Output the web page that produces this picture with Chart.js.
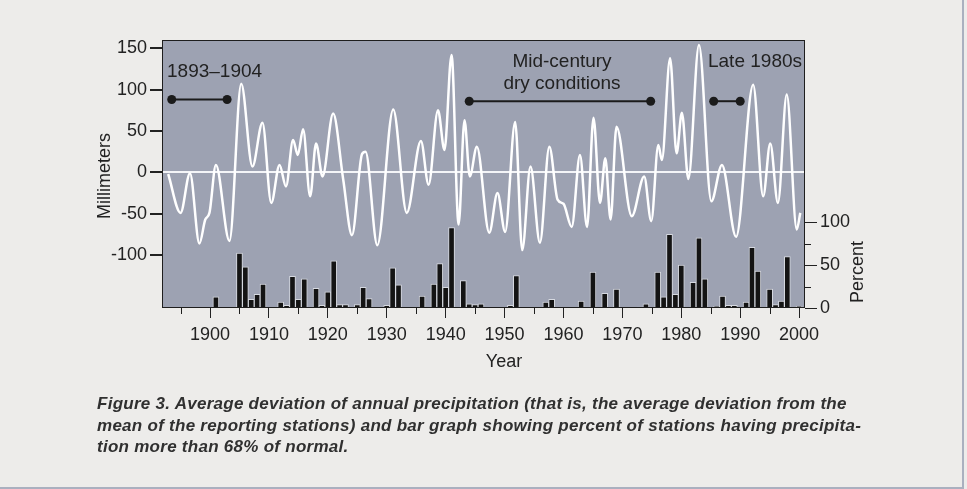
<!DOCTYPE html>
<html>
<head>
<meta charset="utf-8">
<script src="https://cdn.jsdelivr.net/npm/chart.js@4.4.1/dist/chart.umd.min.js"></script>
<style>
  html, body { margin: 0; padding: 0; }
  body { width: 967px; height: 489px; background: #edecea; position: relative; overflow: hidden; font-family: "Liberation Sans", Arial, sans-serif; }
  #frame { position: absolute; left: 0; top: 0; width: 962px; height: 487px; border-right: 2px solid #aab0bf; border-bottom: 2px solid #aab0bf; }
  canvas { position: absolute; left: 0; top: 0; }
  .caption { position: absolute; left: 97px; top: 393px; font-style: italic; font-weight: bold; font-size: 17px; line-height: 21.5px; letter-spacing: 0.27px; color: #303030; white-space: nowrap; }
</style>
</head>
<body>
<div id="frame"></div>
<canvas id="precipChart" width="967" height="489"></canvas>
<div class="caption">
  <div>Figure 3. Average deviation of annual precipitation (that is, the average deviation from the</div>
  <div>mean of the reporting stations) and bar graph showing percent of stations having precipita-</div>
  <div>tion more than 68% of normal.</div>
</div>
<script>
"use strict";

// smoothed deviation curve, read at its turning points (year, mm)
const lineYears = [1892.9, 1895.0, 1896.6, 1898.2, 1899.2, 1899.9, 1901.0, 1903.3, 1905.3, 1907.2,
    1908.9, 1910.4, 1911.8, 1912.9, 1914.1, 1914.9, 1915.8, 1917.0, 1918.0, 1919.1,
    1920.9, 1922.6, 1924.1, 1925.8, 1926.4, 1928.4, 1931.1, 1933.4, 1935.8, 1937.1,
    1938.7, 1939.8, 1941.0, 1942.2, 1943.2, 1944.1, 1945.3, 1947.4, 1948.8, 1950.1,
    1951.8, 1953.0, 1954.4, 1956.0, 1957.6, 1959.0, 1960.0, 1961.4, 1962.8, 1964.0,
    1965.1, 1966.2, 1967.1, 1968.0, 1969.0, 1971.6, 1973.7, 1974.9, 1976.1, 1976.7,
    1978.1, 1979.2, 1980.1, 1981.2, 1983.0, 1985.1, 1986.9, 1989.3, 1992.2, 1993.9,
    1995.1, 1996.4, 1997.9, 1999.6, 2000.2];
const lineMm = [-2, -49, -1, -86, -57, -49, 9, -83, 107, 7,
    60, -37, 9, -17, 39, 21, 52, -29, 35, -5,
    71, -8, -76, 22, 25, -88, 76, -49, 38, -15,
    75, 27, 142, -63, 63, -5, 31, -73, -25, -72,
    61, -94, 7, -85, 31, -33, -38, -66, 21, -66,
    66, -37, 17, -57, 55, -53, -5, -59, 33, 15,
    138, 23, 72, -8, 154, -35, 9, -78, 106, -29,
    35, -37, 94, -69, -49];

// percent of stations above 68% of normal (years with no bar left out)
const barYears = [1901, 1905, 1906, 1907, 1908, 1909, 1912, 1913, 1914, 1915, 1916, 1918, 1919, 1920,
    1921, 1922, 1923, 1925, 1926, 1927, 1930, 1931, 1932, 1936, 1938, 1939, 1940, 1941,
    1943, 1944, 1945, 1946, 1951, 1952, 1957, 1958, 1963, 1965, 1967, 1969, 1973, 1974,
    1976, 1977, 1978, 1979, 1980, 1982, 1983, 1984, 1986, 1987, 1988, 1989, 1991, 1992,
    1993, 1995, 1996, 1997, 1998, 2000];
const barPct = [13, 64, 48, 10, 16, 28, 7, 3, 37, 10, 34, 23, 3, 19,
    55, 4, 4, 4, 24, 11, 3, 47, 27, 14, 28, 52, 24, 94,
    32, 5, 4, 5, 3, 38, 7, 10, 8, 42, 17, 22, 1, 5,
    42, 13, 86, 16, 50, 30, 82, 34, 2, 14, 3, 3, 7, 71,
    43, 22, 4, 8, 60, 2];

// marked periods
const spanLabels = [["1893\u20131904"], ["Mid-century", "dry conditions"], ["Late 1980s"]];
const spanStart = [1893.5, 1944.0, 1985.5];
const spanEnd = [1902.9, 1974.8, 1990.0];
const spanMm = [88, 86, 86];

const yearTicks = [1900, 1910, 1920, 1930, 1940, 1950, 1960, 1970, 1980, 1990, 2000];
const yearMinorTicks = [1895, 1905, 1915, 1925, 1935, 1945, 1955, 1965, 1975, 1985, 1995];
const mmTicks = [-100, -50, 0, 50, 100, 150];
const pctTicks = [0, 50, 100];
const pctMinorTicks = [25, 75];

const ink = '#222222';
const tickFont = {family: '"Liberation Sans", Arial, sans-serif', size: 18};

const spanSets = spanStart.map((s, i) => ({
    type: 'line',
    yAxisID: 'mm',
    data: [{x: s, y: spanMm[i]}, {x: spanEnd[i], y: spanMm[i]}],
    borderColor: '#1b1b1b',
    borderWidth: 2,
    pointRadius: 4.5,
    pointBackgroundColor: '#1b1b1b',
    pointBorderWidth: 0,
    order: 0
}));

const plotBack = {
    id: 'plotBack',
    beforeDraw(chart) {
        const {ctx, chartArea: a} = chart;
        ctx.save();
        ctx.fillStyle = '#9da2b2';
        ctx.fillRect(a.left, a.top, a.right - a.left, a.bottom - a.top);
        ctx.restore();
    }
};

const extras = {
    id: 'extras',
    afterDraw(chart) {
        const {ctx, chartArea: a, scales} = chart;
        ctx.save();
        // frame
        ctx.strokeStyle = '#1e1e1e';
        ctx.lineWidth = 1;
        ctx.strokeRect(a.left + 0.5, a.top + 0.5, a.right - a.left - 1, a.bottom - a.top - 1);
        // minor ticks
        ctx.beginPath();
        yearMinorTicks.forEach(v => {
            const x = Math.round(scales.x.getPixelForValue(v)) + 0.5;
            ctx.moveTo(x, a.bottom);
            ctx.lineTo(x, a.bottom + 6);
        });
        pctMinorTicks.forEach(v => {
            const y = Math.round(scales.pct.getPixelForValue(v)) + 0.5;
            ctx.moveTo(a.right, y);
            ctx.lineTo(a.right + 6, y);
        });
        ctx.stroke();

        ctx.fillStyle = ink;
        ctx.textBaseline = 'middle';
        ctx.font = '18px "Liberation Sans", Arial, sans-serif';
        // axis titles
        ctx.textAlign = 'center';
        ctx.fillText('Year', 504, 362);
        ctx.save();
        ctx.translate(105, 176);
        ctx.rotate(-Math.PI / 2);
        ctx.fillText('Millimeters', 0, 0);
        ctx.restore();
        ctx.save();
        ctx.translate(858, 272);
        ctx.rotate(-Math.PI / 2);
        ctx.fillText('Percent', 0, 0);
        ctx.restore();

        // period labels
        ctx.font = '19px "Liberation Sans", Arial, sans-serif';
        ctx.textAlign = 'left';
        ctx.fillText(spanLabels[0][0], 167, 72);
        ctx.textAlign = 'center';
        ctx.fillText(spanLabels[1][0], 562, 62);
        ctx.fillText(spanLabels[1][1], 562, 84);
        ctx.fillText(spanLabels[2][0], 755, 62);
        ctx.restore();
    }
};

new Chart(document.getElementById('precipChart'), {
    type: 'bar',
    data: {
        datasets: [
            {
                type: 'line',
                yAxisID: 'mm',
                data: lineYears.map((y, i) => ({x: y, y: lineMm[i]})),
                borderColor: '#ffffff',
                borderWidth: 2.5,
                pointRadius: 0,
                cubicInterpolationMode: 'monotone',
                order: 1
            },
            {
                type: 'bar',
                yAxisID: 'pct',
                data: barYears.map((y, i) => ({x: y, y: barPct[i]})),
                backgroundColor: '#141414',
                borderColor: '#d6d9e0',
                borderWidth: 1,
                borderSkipped: 'start',
                barThickness: 6,
                order: 2
            },
            ...spanSets
        ]
    },
    options: {
        responsive: false,
        animation: false,
        layout: {padding: {left: 0, top: 40, right: 0, bottom: 121}},
        plugins: {legend: {display: false}, tooltip: {enabled: false}},
        scales: {
            x: {
                type: 'linear',
                offset: false,
                min: 1891.85,
                max: 2001,
                afterBuildTicks: s => { s.ticks = yearTicks.map(v => ({value: v})); },
                afterFit: s => { s.height = 60; },
                ticks: {color: ink, font: tickFont, padding: 6, maxRotation: 0, callback: v => String(v)},
                grid: {drawOnChartArea: false, offset: false, tickLength: 10, tickColor: ink},
                border: {display: false}
            },
            mm: {
                type: 'linear',
                position: 'left',
                min: -164,
                max: 160,
                afterBuildTicks: s => { s.ticks = mmTicks.map(v => ({value: v})); },
                afterFit: s => { s.width = 162; },
                ticks: {color: ink, font: tickFont, padding: 3},
                grid: {
                    tickLength: 12,
                    tickColor: ink,
                    lineWidth: 2,
                    color: c => (c.tick && c.tick.value === 0 ? '#f4f5f8' : 'rgba(0,0,0,0)')
                },
                border: {display: false}
            },
            pct: {
                type: 'linear',
                position: 'right',
                min: 0,
                max: 313,
                afterBuildTicks: s => { s.ticks = pctTicks.map(v => ({value: v})); },
                afterFit: s => { s.width = 162; },
                ticks: {color: ink, font: tickFont, padding: 3},
                grid: {drawOnChartArea: false, tickLength: 12, tickColor: ink},
                border: {display: false}
            }
        }
    },
    plugins: [plotBack, extras]
});
</script>
</body>
</html>
